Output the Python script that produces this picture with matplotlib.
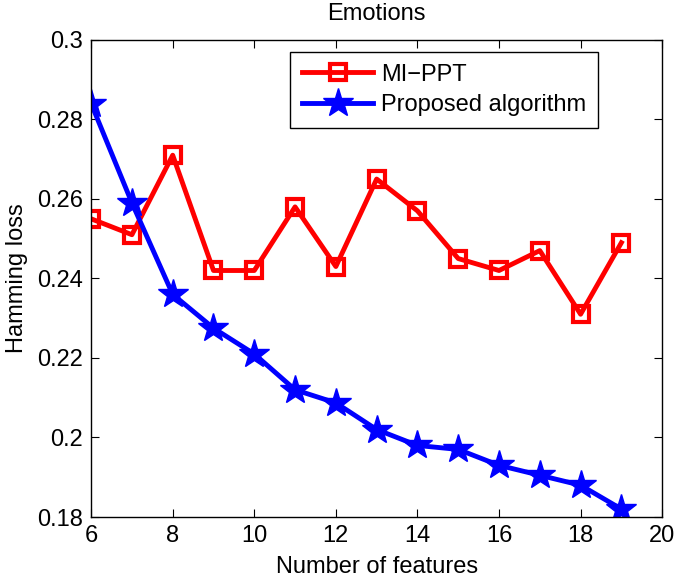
import numpy as np
import matplotlib
matplotlib.use("Agg")
import matplotlib.pyplot as plt

plt.rcParams['font.family'] = ['Liberation Sans', 'DejaVu Sans']

# data
n_features = [6, 7, 8, 9, 10, 11, 12, 13, 14, 15, 16, 17, 18, 19]
mi_ppt = [0.255, 0.251, 0.271, 0.242, 0.242, 0.258, 0.243, 0.265, 0.257,
          0.245, 0.242, 0.247, 0.231, 0.249]
proposed = [0.284, 0.259, 0.236, 0.2275, 0.221, 0.212, 0.2087, 0.202, 0.198,
            0.197, 0.193, 0.1905, 0.188, 0.182]
x_ticks = [6, 8, 10, 12, 14, 16, 18, 20]
y_ticks = [0.18, 0.2, 0.22, 0.24, 0.26, 0.28, 0.3]
y_labels = ['0.18', '0.2', '0.22', '0.24', '0.26', '0.28', '0.3']

fig = plt.figure(figsize=(6.75, 5.78), dpi=100)
ax = fig.add_axes([0.135, 0.1055, 0.846, 0.8255])

ax.plot(n_features, mi_ppt, color='red', lw=3.5, marker='s', ms=11,
        mfc='none', mec='red', mew=3, label='MI\u2212PPT')
ax.plot(n_features, proposed, color='blue', lw=3.5, marker='*', ms=22,
        mfc='blue', mec='blue', label='Proposed algorithm')

ax.set_xlim(6, 20)
ax.set_ylim(0.18, 0.3)
ax.set_xticks(x_ticks)
ax.set_yticks(y_ticks)
ax.set_yticklabels(y_labels)
ax.tick_params(direction='in', top=True, right=True, labelsize=17, length=6, pad=6)
for s in ax.spines.values():
    s.set_linewidth(1)

ax.set_xlabel('Number of features', fontsize=17, labelpad=6)
ax.set_ylabel('Hamming loss', fontsize=17, labelpad=6)
ax.set_title('Emotions', fontsize=17, pad=14)

leg = ax.legend(loc='upper left', bbox_to_anchor=(0.349, 0.975), fontsize=17,
                fancybox=False, edgecolor='black', framealpha=1,
                handlelength=3.0, handletextpad=0.35, borderpad=0.5,
                labelspacing=0.35, borderaxespad=0)
leg.get_frame().set_linewidth(1)

fig.savefig('out.png', dpi=100)
